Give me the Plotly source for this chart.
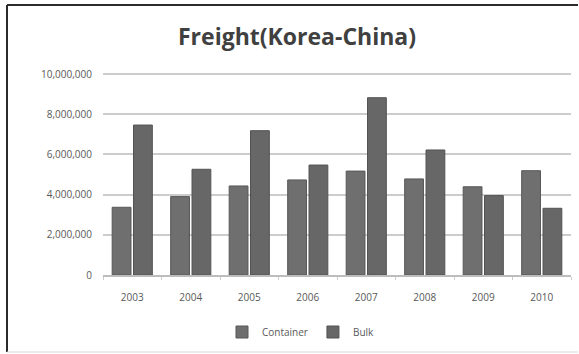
import plotly.graph_objects as go

# Annual freight volume between Korea and China
years = ["2003", "2004", "2005", "2006", "2007", "2008", "2009", "2010"]
container = [3370000, 3900000, 4430000, 4730000, 5170000, 4780000, 4390000, 5190000]
bulk = [7460000, 5260000, 7180000, 5470000, 8820000, 6220000, 3950000, 3320000]
y_ticks = [0, 2000000, 4000000, 6000000, 8000000, 10000000]
y_tick_text = ["0", "2,000,000", "4,000,000", "6,000,000", "8,000,000", "10,000,000"]

W, H = 579, 354
L, R, T, B = 103, 8, 72, 79
PW, PH = W - L - R, H - T - B
fig = go.Figure()
fig.add_trace(go.Bar(name="Container", x=years, y=container,
                     marker=dict(color="#6f6f6f", line=dict(color="#585858", width=1))))
fig.add_trace(go.Bar(name="Bulk", x=years, y=bulk,
                     marker=dict(color="#676767", line=dict(color="#525252", width=1))))

fig.update_layout(
    width=W, height=H,
    margin=dict(l=L, r=R, t=T, b=B),
    paper_bgcolor="white", plot_bgcolor="white",
    barmode="group", bargap=0.27, bargroupgap=0.12,
    font=dict(family="Open Sans", color="#595959", size=10),
    title=dict(text="<b>Freight(Korea-China)</b>", xref="container", yref="container",
               x=297 / W, y=1 - 37 / H, xanchor="center", yanchor="middle",
               font=dict(family="Open Sans", size=23, color="#404040")),
    legend=dict(orientation="h", xref="container", yref="container",
                x=301 / W, y=1 - 332 / H, xanchor="center", yanchor="middle",
                font=dict(size=10, color="#595959"), itemwidth=30, traceorder="normal"),
    showlegend=True,
)
fig.update_xaxes(showline=True, linecolor="#bdbdbd", linewidth=1.5,
                 ticks="outside", tickson="boundaries", ticklen=3, tickcolor="#cccccc",
                 ticklabelstandoff=12, tickfont=dict(size=10, color="#595959"))
fig.update_yaxes(range=[0, 10100000], tickvals=y_ticks, ticktext=y_tick_text,
                 showgrid=True, gridcolor="#cccccc", gridwidth=1.5, zeroline=False,
                 showline=False, ticklabelstandoff=10, tickfont=dict(size=10, color="#595959"))

# outer chart frame (open on the right)
def px_x(v):
    return (v - L) / PW

def px_y(v):
    return (H - B - v) / PH

fig.add_shape(type="line", xref="paper", yref="paper",
              x0=px_x(7), x1=px_x(W - 1), y0=px_y(5), y1=px_y(5),
              line=dict(color="#2b2b2b", width=2))
fig.add_shape(type="line", xref="paper", yref="paper",
              x0=px_x(7), x1=px_x(7), y0=px_y(5), y1=px_y(352),
              line=dict(color="#2b2b2b", width=2))
fig.add_shape(type="line", xref="paper", yref="paper",
              x0=px_x(7), x1=px_x(W - 1), y0=px_y(352), y1=px_y(352),
              line=dict(color="#d8d8d8", width=1))

fig.write_html("out.html", config={"displayModeBar": False})
